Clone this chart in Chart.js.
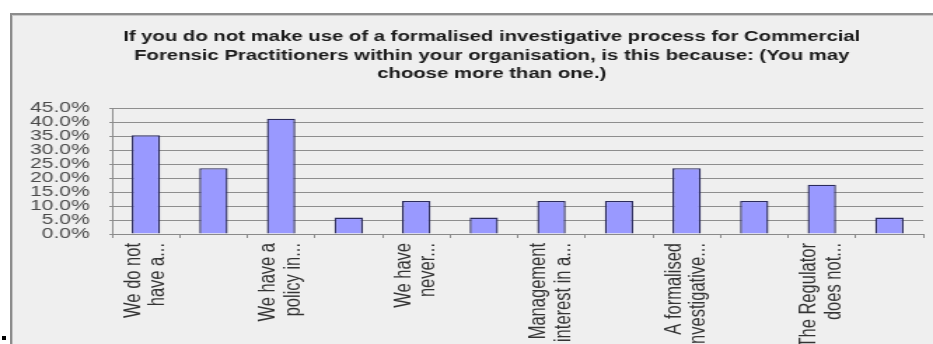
<!DOCTYPE html>
<html lang="en">
<head>
  <meta charset="UTF-8">
  <title>Formalised investigative process survey</title>
  <script src="https://cdn.jsdelivr.net/npm/chart.js"></script>
  <style>
    html, body {
      margin: 0;
      padding: 0;
      background: #ffffff;
      width: 933px;
      height: 344px;
      overflow: hidden;
      position: relative;
    }
    .panel {
      position: absolute;
      left: 10px;
      top: 13px;
      right: 0;
      bottom: 0;
      background: #efefef;
      border-top: 2px solid #8c8c8c;
      border-left: 2px solid #8c8c8c;
      box-shadow: inset 1px 1px 0 #c8c8c8;
    }
    .dot {
      position: absolute;
      left: 2px;
      top: 336px;
      width: 4px;
      height: 4px;
      background: #000;
    }
    #surveyChart {
      position: absolute;
      left: 0;
      top: 0;
    }
  </style>
</head>
<body>
  <div class="panel"></div>
  <div class="dot"></div>
  <!-- the source picture is stretched sideways, so the canvas is drawn narrow and stretched too -->
  <canvas id="surveyChart" width="666" height="344" style="width:933px;height:344px"></canvas>

  <script>
    const titleLines = [
      'If you do not make use of a formalised investigative process for Commercial',
      'Forensic Practitioners within your organisation, is this because: (You may',
      'choose more than one.)'
    ];

    // only every second category label is readable in the source
    const categories = [
      ['We do not', 'have a...'], '',
      ['We have a', 'policy in...'], '',
      ['We have', 'never...'], '',
      ['Management', 'interest in a...'], '',
      ['A formalised', 'investigative...'], '',
      ['The Regulator', 'does not...'], ''
    ];

    const percentages = [35.3, 23.5, 41.2, 5.9, 11.8, 5.9, 11.8, 11.8, 23.5, 11.8, 17.6, 5.9];

    const yMax = 45;
    const yStep = 5;

    const fontFamily = "'Liberation Sans', Arial, sans-serif";
    Chart.defaults.font.family = fontFamily;

    // the title is centred a little right of the canvas middle, so it is drawn by hand
    const titlePlugin = {
      id: 'wrappedTitle',
      afterDraw(chart) {
        const c = chart.ctx;
        c.save();
        c.font = 'bold 14.5px ' + fontFamily;
        c.fillStyle = '#1a1a1a';
        c.textAlign = 'center';
        c.textBaseline = 'middle';
        titleLines.forEach((line, i) => {
          c.fillText(line, 351, 37 + i * 18.5);
        });
        c.restore();
      }
    };

    const ctx = document.getElementById('surveyChart').getContext('2d');

    new Chart(ctx, {
      type: 'bar',
      data: {
        labels: categories,
        datasets: [{
          data: percentages,
          backgroundColor: '#9999ff',
          borderColor: '#2b2b5c',
          borderWidth: 1.4,
          categoryPercentage: 1.0,
          barPercentage: 0.42
        }]
      },
      options: {
        responsive: false,
        animation: false,
        layout: {
          padding: { top: 108, left: 12, right: 7, bottom: 0 }
        },
        plugins: {
          legend: { display: false },
          tooltip: { enabled: false },
          title: { display: false }
        },
        scales: {
          x: {
            grid: {
              display: true,
              drawOnChartArea: false,
              drawTicks: true,
              tickLength: 4,
              color: '#8a8a8a',
              offset: true
            },
            border: { display: true, color: '#8a8a8a', width: 1 },
            ticks: {
              autoSkip: false,
              minRotation: 90,
              maxRotation: 90,
              padding: 5,
              labelOffset: -9,
              color: '#333333',
              font: { size: 16.5, lineHeight: 1.08 }
            },
            afterFit: (scale) => { scale.height = 110; }
          },
          y: {
            min: 0,
            max: yMax,
            grid: {
              color: '#8e8e8e',
              lineWidth: 1,
              tickLength: 2
            },
            border: { display: true, color: '#8a8a8a', width: 1 },
            ticks: {
              stepSize: yStep,
              autoSkip: false,
              padding: 14,
              color: '#4a4a4a',
              font: { size: 15 },
              callback: (value) => value.toFixed(1) + '%'
            },
            afterFit: (scale) => { scale.width = 68; }
          }
        }
      },
      plugins: [titlePlugin]
    });
  </script>
</body>
</html>
